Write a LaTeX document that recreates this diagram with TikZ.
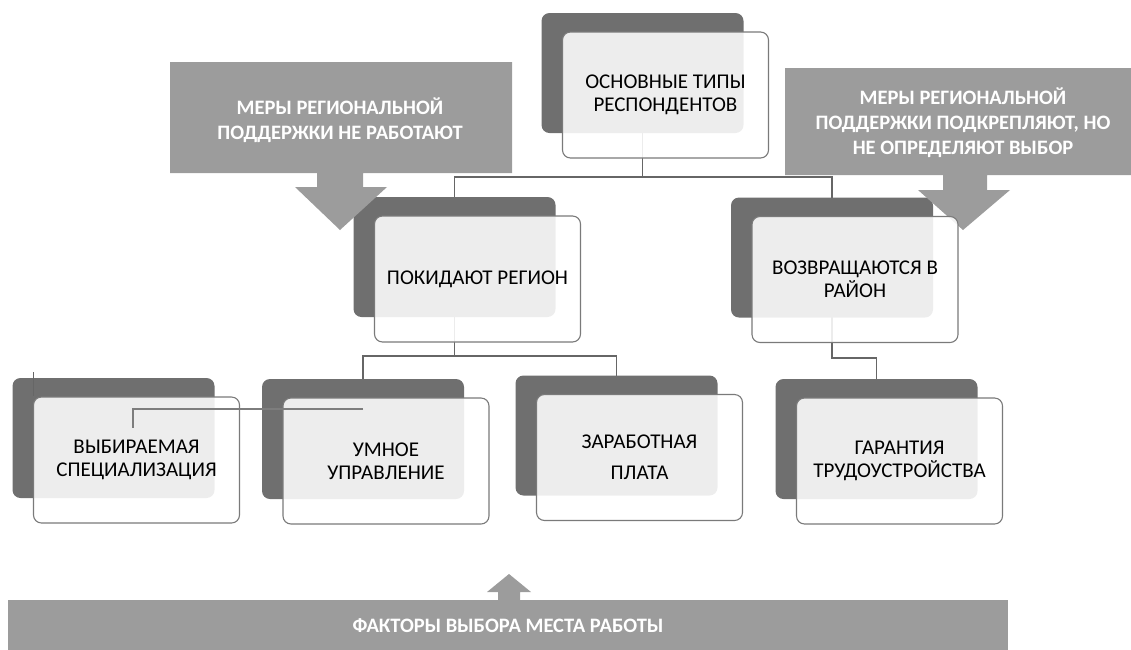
\documentclass[tikz,border=0pt]{standalone}
\usepackage{fontspec}
\setmainfont{Carlito}
\usetikzlibrary{calc}
\pgfdeclarelayer{bg}
\pgfsetlayers{bg,main}
\definecolor{backc}{HTML}{6F6F6F}
\definecolor{callc}{HTML}{9C9C9C}
\definecolor{linec}{HTML}{666666}
\definecolor{edgec}{HTML}{7A7A7A}
\tikzset{
  front/.style={draw=edgec, line width=1.1pt, rounded corners=8pt, fill=white, fill opacity=0.88, text opacity=1,
    minimum width=206pt, minimum height=126pt, align=center, font=\fontsize{21}{23}\selectfont, inner sep=0pt},
  back/.style={fill=backc, rounded corners=8pt, minimum width=202pt, minimum height=120pt, inner sep=0pt},
  conn/.style={draw=linec, line width=1.2pt},
  callout/.style={fill=callc},
  calltext/.style={text=white, font=\fontsize{20.5}{25}\selectfont\bfseries, align=center, inner sep=0pt},
}
\begin{document}
\begin{tikzpicture}[x=1pt,y=-1pt]
\useasboundingbox (0,0) rectangle (1131,649);
\clip (0,0) rectangle (1131,649);
% front box centres
\coordinate (tnC) at (665.5,95);
\coordinate (pokC) at (477.5,279);
\coordinate (vozC) at (855,279.5);
\coordinate (vybC) at (136.5,460);
\coordinate (umnC) at (386,461);
\coordinate (zarC) at (639.5,457.5);
\coordinate (garC) at (899.5,461);
% back boxes
\node[back] (tnB) at ($(tnC)+(-23,-22)$) {};
\node[back] (pokB) at ($(pokC)+(-23,-22)$) {};
\node[back] (vozB) at ($(vozC)+(-23,-22)$) {};
\node[back] (vybB) at ($(vybC)+(-23,-22)$) {};
\node[back] (umnB) at ($(umnC)+(-23,-22)$) {};
\node[back] (zarB) at ($(zarC)+(-23,-22)$) {};
\node[back] (garB) at ($(garC)+(-23,-22)$) {};
% connectors (behind)
\coordinate (jTop) at (0,177);
\coordinate (jMid) at (0,356);
\coordinate (jRt) at (0,358);
\begin{pgfonlayer}{bg}
\draw[conn] (tnB.center) -- (tnB.center |- jTop);
\draw[conn] (pokB.center) -- (pokB.center |- jTop) -- (vozB.center |- jTop) -- (vozB.center);
\draw[conn] (pokB.center) -- (pokB.center |- jMid);
\draw[conn] (umnB.center) -- (umnB.center |- jMid) -- (zarB.center |- jMid) -- (zarB.center);
\draw[conn] (vozB.center) -- (vozB.center |- jRt) -- (garB.center |- jRt) -- (garB.center);
\end{pgfonlayer}
% callouts
\fill[callout] (170,62) -- (512,62) -- (512,173) -- (363,173) -- (363,187) -- (387,187) -- (340,230)
  -- (295,187) -- (317,187) -- (317,173) -- (170,173) -- cycle;
\fill[callout] (785,68) -- (1141,68) -- (1141,175) -- (987,175) -- (987,190) -- (1010,190) -- (963,230)
  -- (918,190) -- (943,190) -- (943,175) -- (785,175) -- cycle;
\node[calltext] (c1) at (340,120) {МЕРЫ РЕГИОНАЛЬНОЙ\\ПОДДЕРЖКИ НЕ РАБОТАЮТ};
\node[calltext] (c2) at (963,123) {МЕРЫ РЕГИОНАЛЬНОЙ\\ПОДДЕРЖКИ ПОДКРЕПЛЯЮТ, НО\\НЕ ОПРЕДЕЛЯЮТ ВЫБОР};
% bottom bar
\fill[callout] (8,600) rectangle (1008,660);
\fill[callout] (498,601) -- (498,592) -- (487,592) -- (509,574) -- (531,592) -- (520,592) -- (520,601) -- cycle;
\node[calltext] (bar) at (508,626) {ФАКТОРЫ ВЫБОРА МЕСТА РАБОТЫ};
% front boxes
\node[front] (tn) at (tnC) {ОСНОВНЫЕ ТИПЫ\\РЕСПОНДЕНТОВ};
\node[front] (pok) at (pokC) {ПОКИДАЮТ РЕГИОН};
\node[front] (voz) at (vozC) {ВОЗВРАЩАЮТСЯ В\\РАЙОН};
\node[front] (vyb) at (vybC) {ВЫБИРАЕМАЯ\\СПЕЦИАЛИЗАЦИЯ};
\node[front] (umn) at (umnC) {УМНОЕ\\УПРАВЛЕНИЕ};
\node[front] (zar) at (zarC) {ЗАРАБОТНАЯ\\[8pt]ПЛАТА};
\node[front] (gar) at (garC) {ГАРАНТИЯ\\ТРУДОУСТРОЙСТВА};
% stray lines on top
\coordinate (jV) at (133,409);
\coordinate (jVend) at (133,428);
\draw[conn, draw=linec!85] (umnB.center |- jV) -- (jV) -- (jVend);
\coordinate (vybTick) at (33.5,372);
\draw[conn] (vybTick) -- (vybTick |- vyb.north);
\end{tikzpicture}
\end{document}
